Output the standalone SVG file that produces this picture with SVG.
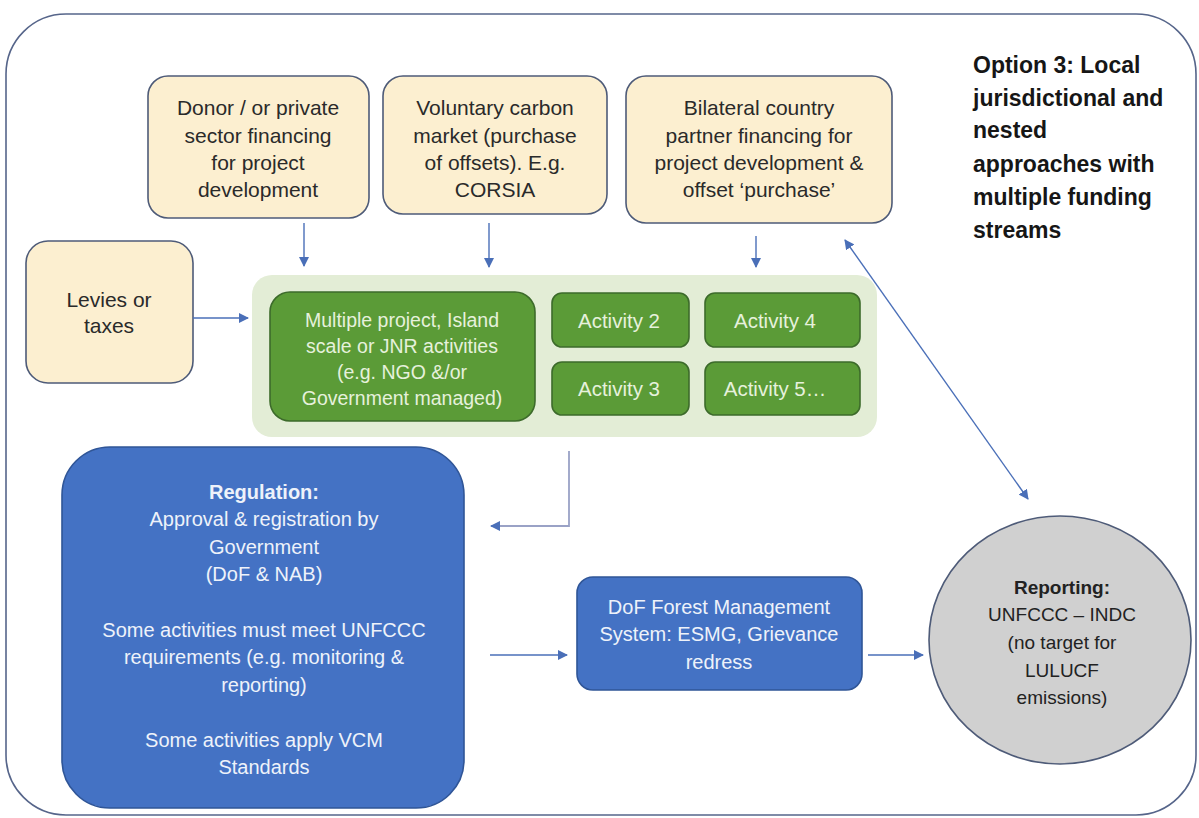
<svg xmlns="http://www.w3.org/2000/svg" width="1199" height="818" viewBox="0 0 1199 818">
  <style>
    .frame { fill: #ffffff; stroke: #56658a; stroke-width: 1.6; }
    .fund { fill: #fcefd0; stroke: #4e5b78; stroke-width: 1.6; }
    .fund-t { font-family: "Liberation Sans", Arial, sans-serif; font-size: 21px; fill: #2a2a2a; text-anchor: middle; }
    .pool { fill: #e3edd6; stroke: none; }
    .act { fill: #5b9b37; stroke: #3d6b2b; stroke-width: 1.6; }
    .act-t { font-family: "Liberation Sans", Arial, sans-serif; font-size: 19.5px; fill: #e6f1dc; text-anchor: middle; }
    .act-s { font-size: 20.5px; }
    .blue { fill: #4472c4; stroke: #2f5597; stroke-width: 1.6; }
    .blue-t { font-family: "Liberation Sans", Arial, sans-serif; font-size: 20px; fill: #eef2fa; text-anchor: middle; }
    .rep { fill: #d0d0d0; stroke: #4e5b78; stroke-width: 1.6; }
    .rep-t { font-family: "Liberation Sans", Arial, sans-serif; font-size: 19px; fill: #222222; text-anchor: middle; }
    .title { font-family: "Liberation Sans", Arial, sans-serif; font-size: 23px; font-weight: bold; fill: #161616; }
    .b { font-weight: bold; }
    .link { fill: none; stroke: #4a6fb8; stroke-width: 1.4; }
    .elbow { fill: none; stroke: #9aa2c6; stroke-width: 1.8; }
  </style>
  <defs>
    <marker id="head" viewBox="0 0 10 10" refX="9" refY="5" markerWidth="10" markerHeight="10" markerUnits="userSpaceOnUse" orient="auto-start-reverse">
      <path d="M0,0 L10,5 L0,10 Z" fill="#4a6fb8"/>
    </marker>
  </defs>

  <!-- outer frame -->
  <rect class="frame" x="6" y="14" width="1190" height="801" rx="60" ry="60"/>

  <!-- heading -->
  <g id="heading">
    <text class="title" x="973" y="73">Option 3: Local</text>
    <text class="title" x="973" y="106">jurisdictional and</text>
    <text class="title" x="973" y="138">nested</text>
    <text class="title" x="973" y="172">approaches with</text>
    <text class="title" x="973" y="205">multiple funding</text>
    <text class="title" x="973" y="238">streams</text>
  </g>

  <!-- funding sources -->
  <g id="donor">
    <rect class="fund" x="148" y="76" width="221" height="142" rx="20"/>
    <text class="fund-t" x="258" y="115">Donor / or private</text>
    <text class="fund-t" x="258" y="143">sector financing</text>
    <text class="fund-t" x="258" y="170">for project</text>
    <text class="fund-t" x="258" y="197">development</text>
  </g>
  <g id="voluntary">
    <rect class="fund" x="383" y="76" width="224" height="138" rx="20"/>
    <text class="fund-t" x="495" y="115">Voluntary carbon</text>
    <text class="fund-t" x="495" y="143">market (purchase</text>
    <text class="fund-t" x="495" y="170">of offsets). E.g.</text>
    <text class="fund-t" x="495" y="197">CORSIA</text>
  </g>
  <g id="bilateral">
    <rect class="fund" x="626" y="76" width="266" height="147" rx="20"/>
    <text class="fund-t" x="759" y="115">Bilateral country</text>
    <text class="fund-t" x="759" y="143">partner financing for</text>
    <text class="fund-t" x="759" y="170">project development &amp;</text>
    <text class="fund-t" x="759" y="197">offset ‘purchase’</text>
  </g>
  <g id="levies">
    <rect class="fund" x="26" y="241" width="167" height="142" rx="22"/>
    <text class="fund-t" x="109" y="307">Levies or</text>
    <text class="fund-t" x="109" y="333">taxes</text>
  </g>

  <!-- activities -->
  <g id="activities">
    <rect class="pool" x="252" y="275" width="625" height="162" rx="20"/>
    <g id="multiple">
      <rect class="act" x="270" y="292" width="265" height="129" rx="20"/>
      <text class="act-t" x="402" y="327">Multiple project, Island</text>
      <text class="act-t" x="402" y="353">scale or JNR activities</text>
      <text class="act-t" x="402" y="379">(e.g. NGO &amp;/or</text>
      <text class="act-t" x="402" y="405">Government managed)</text>
    </g>
    <g id="activity2">
      <rect class="act" x="552" y="293" width="137" height="54" rx="10"/>
      <text class="act-t act-s" x="619" y="328">Activity 2</text>
    </g>
    <g id="activity3">
      <rect class="act" x="552" y="362" width="137" height="53" rx="10"/>
      <text class="act-t act-s" x="619" y="396">Activity 3</text>
    </g>
    <g id="activity4">
      <rect class="act" x="705" y="293" width="155" height="54" rx="10"/>
      <text class="act-t act-s" x="775" y="328">Activity 4</text>
    </g>
    <g id="activity5">
      <rect class="act" x="705" y="362" width="155" height="53" rx="10"/>
      <text class="act-t act-s" x="775" y="396">Activity 5…</text>
    </g>
  </g>

  <!-- regulation -->
  <g id="regulation">
    <rect class="blue" x="62" y="447" width="402" height="361" rx="48"/>
    <text class="blue-t b" x="264" y="499">Regulation:</text>
    <text class="blue-t" x="264" y="526">Approval &amp; registration by</text>
    <text class="blue-t" x="264" y="554">Government</text>
    <text class="blue-t" x="264" y="581">(DoF &amp; NAB)</text>
    <text class="blue-t" x="264" y="637">Some activities must meet UNFCCC</text>
    <text class="blue-t" x="264" y="664">requirements (e.g. monitoring &amp;</text>
    <text class="blue-t" x="264" y="692">reporting)</text>
    <text class="blue-t" x="264" y="747">Some activities apply VCM</text>
    <text class="blue-t" x="264" y="774">Standards</text>
  </g>

  <!-- forest management system -->
  <g id="dof">
    <rect class="blue" x="577" y="577" width="285" height="113" rx="16"/>
    <text class="blue-t" x="719" y="614">DoF Forest Management</text>
    <text class="blue-t" x="719" y="641">System: ESMG, Grievance</text>
    <text class="blue-t" x="719" y="669">redress</text>
  </g>

  <!-- reporting -->
  <g id="reporting">
    <ellipse class="rep" cx="1060" cy="640" rx="131" ry="124"/>
    <text class="rep-t b" x="1062" y="594">Reporting:</text>
    <text class="rep-t" x="1062" y="621">UNFCCC – INDC</text>
    <text class="rep-t" x="1062" y="649">(no target for</text>
    <text class="rep-t" x="1062" y="677">LULUCF</text>
    <text class="rep-t" x="1062" y="704">emissions)</text>
  </g>

  <!-- connectors -->
  <g id="connectors">
    <line class="link" x1="304" y1="223" x2="304" y2="266" marker-end="url(#head)"/>
    <line class="link" x1="489" y1="223" x2="489" y2="267" marker-end="url(#head)"/>
    <line class="link" x1="756" y1="236" x2="756" y2="267" marker-end="url(#head)"/>
    <line class="link" x1="193" y1="318" x2="248" y2="318" marker-end="url(#head)"/>
    <polyline class="elbow" points="569,451 569,526 495,526"/>
    <line class="link" x1="500" y1="526" x2="491" y2="526" marker-end="url(#head)"/>
    <line class="link" x1="490" y1="655" x2="567" y2="655" marker-end="url(#head)"/>
    <line class="link" x1="868" y1="655" x2="923" y2="655" marker-end="url(#head)"/>
    <line class="link" x1="845" y1="240" x2="1028" y2="499" marker-start="url(#head)" marker-end="url(#head)"/>
  </g>
</svg>
